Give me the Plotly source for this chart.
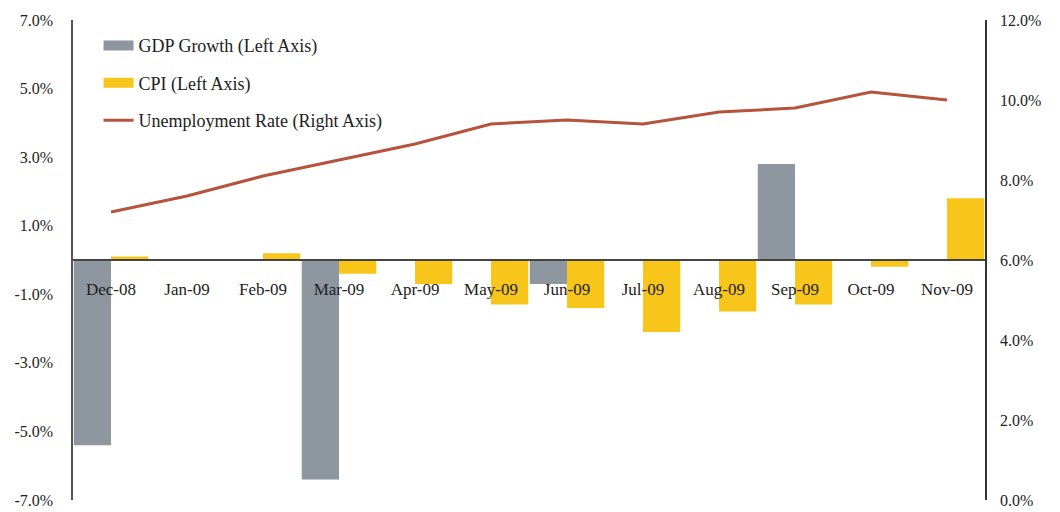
import plotly.graph_objects as go

months = ["Dec-08", "Jan-09", "Feb-09", "Mar-09", "Apr-09", "May-09",
          "Jun-09", "Jul-09", "Aug-09", "Sep-09", "Oct-09", "Nov-09"]
gdp_growth = [-5.4, 0.0, 0.0, -6.4, 0.0, 0.0, -0.7, 0.0, 0.0, 2.8, 0.0, 0.0]
cpi = [0.1, 0.0, 0.2, -0.4, -0.7, -1.3, -1.4, -2.1, -1.5, -1.3, -0.2, 1.8]
unemployment = [7.2, 7.6, 8.1, 8.5, 8.9, 9.4, 9.5, 9.4, 9.7, 9.8, 10.2, 10.0]

left_ticks = [-7, -5, -3, -1, 1, 3, 5, 7]
left_labels = ["-7.0%", "-5.0%", "-3.0%", "-1.0%", "1.0%", "3.0%", "5.0%", "7.0%"]
right_ticks = [0, 2, 4, 6, 8, 10, 12]
right_labels = ["0.0%", "2.0%", "4.0%", "6.0%", "8.0%", "10.0%", "12.0%"]

FONT = "Liberation Serif"
GRAY = "#8E96A0"
YELLOW = "#F8C61A"
RED = "#B5533C"

fig = go.Figure()
fig.add_trace(go.Bar(x=months, y=gdp_growth, name="GDP Growth (Left Axis)",
                     marker=dict(color=GRAY, line=dict(width=0)), showlegend=False))
fig.add_trace(go.Bar(x=months, y=cpi, name="CPI (Left Axis)",
                     marker=dict(color=YELLOW, line=dict(width=0)), showlegend=False))
fig.add_trace(go.Scatter(x=months, y=unemployment, name="Unemployment Rate (Right Axis)",
                         mode="lines", line=dict(color=RED, width=3),
                         yaxis="y2", showlegend=False))

# legend entries (wide swatches like the original)
fig.add_trace(go.Scatter(x=[None], y=[None], mode="lines", name="GDP Growth (Left Axis)",
                         line=dict(color=GRAY, width=12), legendgroup="g1"))
fig.add_trace(go.Scatter(x=[None], y=[None], mode="lines", name="CPI (Left Axis)",
                         line=dict(color=YELLOW, width=12), legendgroup="g2"))
fig.add_trace(go.Scatter(x=[None], y=[None], mode="lines", name="Unemployment Rate (Right Axis)",
                         line=dict(color=RED, width=3), legendgroup="g3", yaxis="y2"))

fig.update_layout(
    width=1060, height=512,
    margin=dict(l=73, r=75, t=20, b=12, autoexpand=False),
    paper_bgcolor="white", plot_bgcolor="white",
    barmode="group", bargap=0.02, bargroupgap=0,
    font=dict(family=FONT, size=16, color="#222"),
    showlegend=True,
    legend=dict(x=0.028, y=0.985, xanchor="left", yanchor="top",
                bgcolor="rgba(0,0,0,0)", tracegroupgap=11,
                font=dict(family=FONT, size=18, color="#222"),
                itemwidth=30),
    xaxis=dict(anchor="free", position=0.5, showline=True, linecolor="#444",
               linewidth=2, showgrid=False, zeroline=False, automargin=False,
               ticks="outside", ticklen=14, tickcolor="rgba(0,0,0,0)",
               tickfont=dict(family=FONT, size=17, color="#222"),
               layer="above traces"),
    yaxis=dict(range=[-7, 7], tickmode="array", tickvals=left_ticks, ticktext=left_labels,
               showline=True, linecolor="#555", linewidth=1.5, showgrid=False,
               zeroline=False, automargin=False, ticks="outside", ticklen=15,
               tickcolor="rgba(0,0,0,0)",
               tickfont=dict(family=FONT, size=16, color="#222")),
    yaxis2=dict(range=[0, 12], tickmode="array", tickvals=right_ticks, ticktext=right_labels,
                overlaying="y", side="right", anchor="x",
                showline=True, linecolor="#333", linewidth=1.5, showgrid=False,
                zeroline=False, automargin=False, ticks="outside", ticklen=10,
                tickcolor="rgba(0,0,0,0)",
                tickfont=dict(family=FONT, size=16, color="#222")),
)

fig.write_html("out.html")
